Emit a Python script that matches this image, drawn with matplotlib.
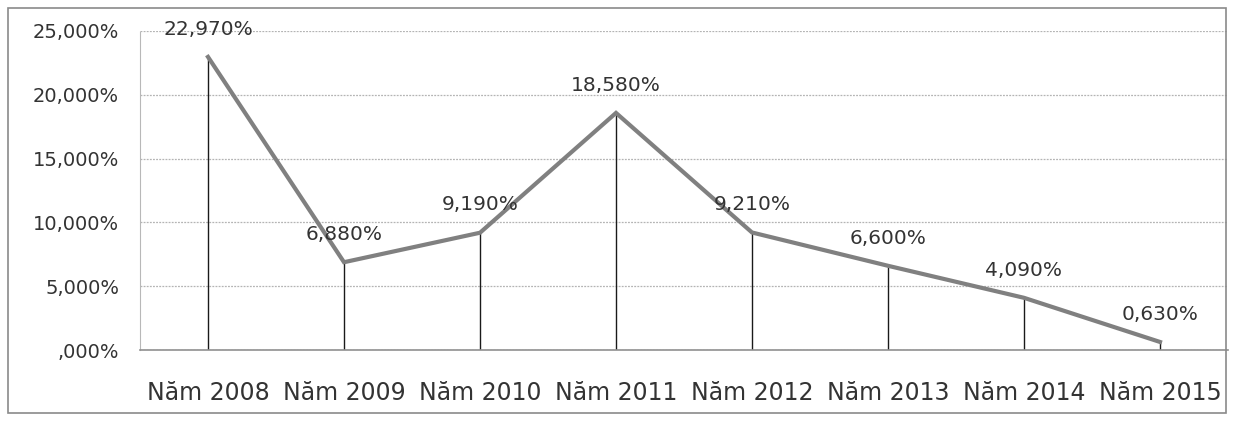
import matplotlib.pyplot as plt
from matplotlib.patches import Rectangle

years = ['Năm 2008', 'Năm 2009', 'Năm 2010', 'Năm 2011',
         'Năm 2012', 'Năm 2013', 'Năm 2014', 'Năm 2015']
rates = [22.97, 6.88, 9.19, 18.58, 9.21, 6.60, 4.09, 0.63]
rate_labels = ['22,970%', '6,880%', '9,190%', '18,580%',
               '9,210%', '6,600%', '4,090%', '0,630%']
yticks = [0, 5, 10, 15, 20, 25]
ytick_labels = [',000%', '5,000%', '10,000%', '15,000%', '20,000%', '25,000%']

W, H = 1233, 423
fig = plt.figure(figsize=(W / 100, H / 100), dpi=100)
fig.patch.set_facecolor('white')
ax = fig.add_axes([140 / W, (H - 350) / H, (1228 - 140) / W, (350 - 31) / H])

x = list(range(len(years)))
# drop lines
ax.vlines(x, 0, rates, color='#1a1a1a', lw=1.0, zorder=2)
ax.plot(x, rates, color='#808080', lw=3.0, solid_joinstyle='miter', zorder=3)

for xi, v, lab in zip(x, rates, rate_labels):
    ax.annotate(lab, (xi, v), xytext=(0, 20), textcoords='offset points',
                ha='center', va='center', fontsize=14.5, color='#333333')

ax.set_xlim(-0.5, len(years) - 0.5)
ax.set_ylim(0, 25)
ax.set_xticks(x)
ax.set_xticklabels(years, fontsize=17, color='#333333')
ax.set_yticks(yticks)
ax.set_yticklabels(ytick_labels, fontsize=14, color='#333333')
ax.tick_params(axis='both', length=0)
ax.tick_params(axis='x', pad=22)
ax.tick_params(axis='y', pad=15)

ax.grid(axis='y', color='#b4b4b4', lw=0.9, ls=(0, (1.5, 1)))
ax.set_axisbelow(True)
for s in ['top', 'right']:
    ax.spines[s].set_visible(False)
ax.spines['left'].set_color('#b8b8b8')
ax.spines['left'].set_linestyle((0, (1.5, 1)))
ax.spines['bottom'].set_color('#909090')
ax.spines['bottom'].set_linewidth(1.2)

# outer chart border
fig.patches.append(Rectangle((8 / W, 10 / H), (1226 - 8) / W, (413 - 8) / H,
                             transform=fig.transFigure, fill=False,
                             edgecolor='#8a8a8a', lw=1.2))

fig.savefig('out.png', dpi=100)
